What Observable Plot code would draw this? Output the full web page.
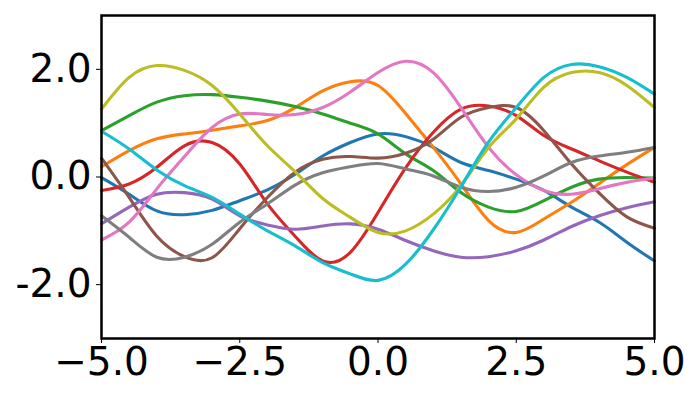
<!DOCTYPE html>
<html>
<head>
<meta charset="utf-8">
<script src="https://cdn.jsdelivr.net/npm/d3@7"></script>
<script src="https://cdn.jsdelivr.net/npm/@observablehq/plot@0.6"></script>
<style>
  html, body { margin: 0; padding: 0; background: white; }
  #chart svg { display: block; }
</style>
</head>
<body>
<div id="chart"></div>
<script>
const xs = [-5, -4.5, -4, -3.5, -3, -2.5, -2, -1.5, -1, -0.5, 0, 0.5, 1, 1.5, 2, 2.5, 3, 3.5, 4, 4.5, 5];

const blue   = [-0.01, -0.32, -0.63, -0.70, -0.62, -0.44, -0.24, 0.05, 0.39, 0.64, 0.80, 0.75, 0.55, 0.27, 0.12, -0.04, -0.25, -0.56, -0.84, -1.21, -1.56];
const orange = [0.19, 0.49, 0.71, 0.80, 0.87, 0.95, 1.05, 1.29, 1.60, 1.77, 1.70, 1.18, 0.55, -0.13, -0.81, -1.03, -0.78, -0.47, -0.12, 0.23, 0.55];
const green  = [0.86, 1.14, 1.39, 1.51, 1.53, 1.48, 1.41, 1.31, 1.17, 1.00, 0.80, 0.43, 0.12, -0.29, -0.56, -0.64, -0.44, -0.19, -0.04, -0.01, -0.02];
const red    = [-0.25, -0.13, 0.18, 0.58, 0.64, 0.24, -0.50, -1.10, -1.56, -1.40, -0.66, 0.17, 0.83, 1.26, 1.32, 1.14, 0.77, 0.52, 0.30, 0.09, -0.10];
const purple = [-0.87, -0.56, -0.32, -0.29, -0.41, -0.72, -0.89, -0.97, -0.91, -0.87, -0.97, -1.18, -1.37, -1.49, -1.48, -1.37, -1.17, -0.92, -0.72, -0.57, -0.46];
const brown  = [0.35, -0.38, -1.10, -1.48, -1.50, -0.96, -0.38, 0.09, 0.33, 0.38, 0.35, 0.44, 0.70, 1.11, 1.29, 1.29, 0.86, 0.24, -0.30, -0.74, -0.95];
const pink   = [-1.17, -0.84, -0.22, 0.38, 0.92, 1.17, 1.16, 1.16, 1.29, 1.58, 1.94, 2.15, 1.94, 1.29, 0.55, 0.04, -0.25, -0.32, -0.22, -0.10, -0.02];
const gray   = [-0.72, -1.12, -1.49, -1.49, -1.25, -0.84, -0.50, -0.15, 0.08, 0.19, 0.25, 0.15, 0.02, -0.19, -0.27, -0.19, 0.02, 0.27, 0.39, 0.46, 0.55];
const olive  = [1.26, 1.85, 2.07, 1.98, 1.70, 1.17, 0.58, 0.10, -0.40, -0.75, -1.03, -1.00, -0.69, -0.16, 0.55, 1.08, 1.67, 1.94, 1.94, 1.70, 1.29];
const cyan   = [0.85, 0.52, 0.13, -0.16, -0.38, -0.69, -1.00, -1.28, -1.59, -1.80, -1.92, -1.62, -0.98, -0.18, 0.65, 1.29, 1.85, 2.09, 2.05, 1.85, 1.54];

const seriesValues = [blue, orange, green, red, purple, brown, pink, gray, olive, cyan];
const seriesColors = ["#1f77b4", "#ff7f0e", "#2ca02c", "#d62728", "#9467bd", "#8c564b", "#e377c2", "#7f7f7f", "#bcbd22", "#17becf"];

const xTicks = [-5, -2.5, 0, 2.5, 5];
const yTicks = [-2, 0, 2];

const lineMarks = seriesValues.map((vals, k) =>
  Plot.lineY(xs.map((x, i) => ({x, y: vals[i]})), {
    x: "x", y: "y",
    stroke: seriesColors[k],
    strokeWidth: 3.1,
    curve: "natural"
  })
);

const chart = Plot.plot({
  width: 700,
  height: 400,
  marginLeft: 101,
  marginRight: 46,
  marginTop: 15,
  marginBottom: 62,
  style: {fontFamily: "DejaVu Sans", background: "white", color: "black"},
  x: {domain: [-5, 5]},
  y: {domain: [-3, 3]},
  marks: [
    ...lineMarks,
    Plot.frame({stroke: "black", strokeWidth: 2.5}),
    Plot.axisX({
      ticks: xTicks,
      tickSize: 5,
      tickPadding: 4,
      fontSize: 39,
      label: null,
      tickFormat: d => d.toFixed(1).replace("-", "\u2212")
    }),
    Plot.axisY({
      ticks: yTicks,
      tickSize: 5,
      tickPadding: 5,
      fontSize: 39,
      label: null,
      tickFormat: d => d.toFixed(1)
    })
  ]
});

document.getElementById("chart").appendChild(chart);
</script>
</body>
</html>
